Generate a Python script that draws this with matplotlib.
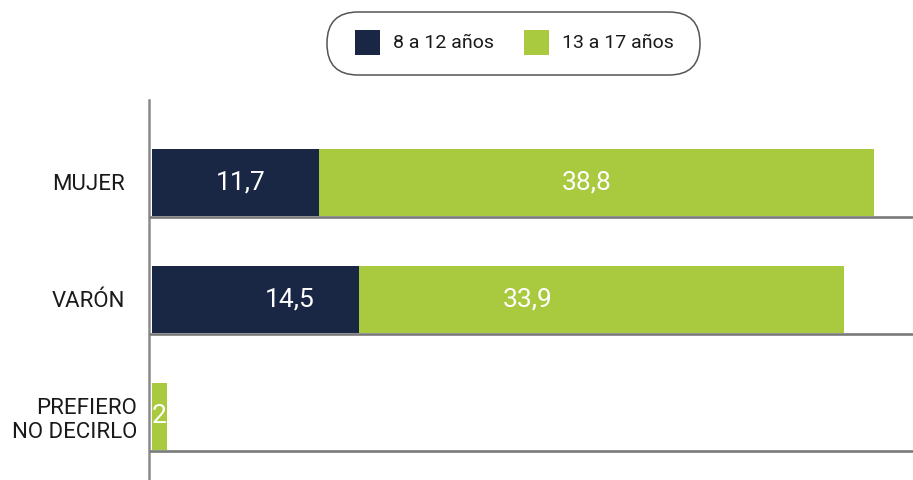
import matplotlib
matplotlib.use("Agg")
import matplotlib.pyplot as plt
from matplotlib.patches import FancyBboxPatch, Rectangle
import matplotlib.transforms as mtransforms

plt.rcParams['font.family'] = ['Roboto', 'DejaVu Sans']

# ---- data ----
categories = ["MUJER", "VARÓN", "PREFIERO\nNO DECIRLO"]
series_names = ["8 a 12 años", "13 a 17 años"]
values_8_12 = [11.7, 14.5, 0.0]
values_13_17 = [38.8, 33.9, 1.05]
labels_8_12 = ["11,7", "14,5", ""]
labels_13_17 = ["38,8", "33,9", "2"]
label_x_8_12 = [6.2, 9.65, None]
label_x_13_17 = [30.4, 26.3, 0.52]

navy = "#1a2744"
green = "#a9c93f"
grey = "#7a7a7a"
txt = "#1a1a1a"

W, H = 913, 480
fig = plt.figure(figsize=(W / 100, H / 100), dpi=100)

ax = fig.add_axes([149 / W, 0, (W - 149) / W, 380 / H])
y = list(range(len(categories)))
bh = 0.58
ax.barh(y, values_8_12, height=bh, color=navy, zorder=2)
ax.barh(y, values_13_17, left=values_8_12, height=bh, color=green, zorder=2)

xmin, xmax = -0.21, 53.22
ax.set_xlim(xmin, xmax)
ax.set_ylim(2.543, -0.705)

ax.hlines([i + 0.297 for i in y], xmin, xmax, color=grey, lw=1.9, zorder=3)

for i in y:
    if labels_8_12[i]:
        ax.text(label_x_8_12[i], i, labels_8_12[i], color="white", fontsize=19,
                ha="center", va="center", zorder=4)
    if labels_13_17[i]:
        ax.text(label_x_13_17[i], i, labels_13_17[i], color="white", fontsize=19,
                ha="center", va="center", zorder=4)

for s in ["top", "right", "bottom"]:
    ax.spines[s].set_visible(False)
ax.spines["left"].set_color("#8a8a8a")
ax.spines["left"].set_linewidth(1.8)
ax.set_xticks([])
ax.set_yticks(y)
ax.set_yticklabels(categories, fontsize=16, color=txt, linespacing=1.2)
ax.tick_params(axis="y", length=0, pad=8.5)
for i, lab in enumerate(ax.get_yticklabels()):
    if i < 2:
        lab.set_transform(lab.get_transform() + mtransforms.ScaledTranslation(-12 / 100, 0, fig.dpi_scale_trans))

# ---- legend (pixel coordinates overlay) ----
lax = fig.add_axes([0, 0, 1, 1], zorder=5)
lax.set_xlim(0, W)
lax.set_ylim(H, 0)
lax.axis("off")
lax.patch.set_alpha(0)
pill = FancyBboxPatch((327, 12), 373, 63, boxstyle="round,pad=0,rounding_size=31",
                      facecolor="white", edgecolor="#555555", lw=1.1)
lax.add_patch(pill)
legend_colors = [navy, green]
sq_x = [355, 524]
tx_x = [393, 562]
for name, c, sx, tx in zip(series_names, legend_colors, sq_x, tx_x):
    lax.add_patch(Rectangle((sx, 30), 25, 25, facecolor=c, edgecolor="none"))
    lax.text(tx, 43, name, fontsize=14, color=txt, ha="left", va="center")

fig.savefig("out.png", dpi=100)
